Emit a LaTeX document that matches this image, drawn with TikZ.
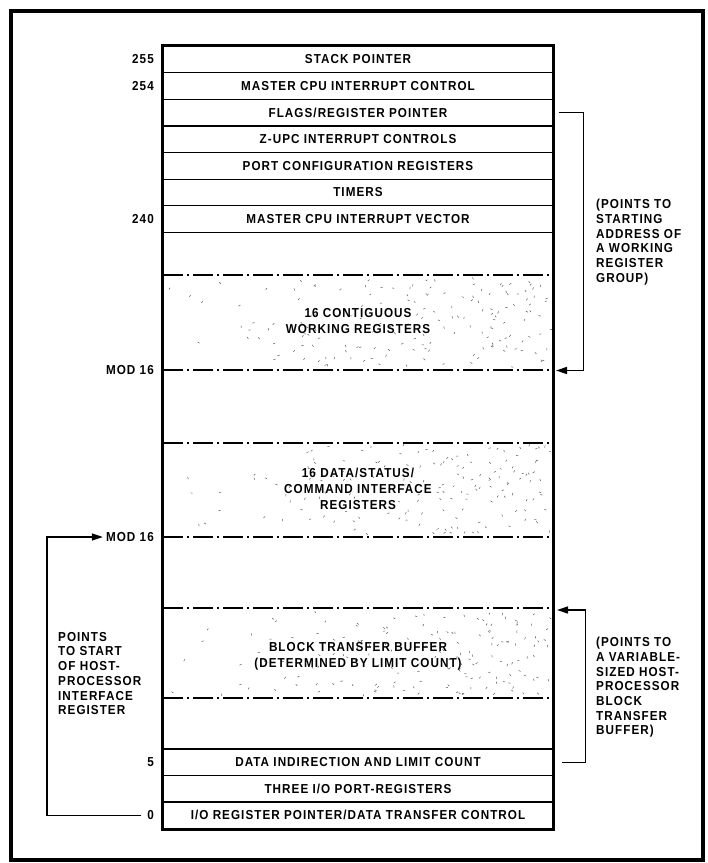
\documentclass[tikz,border=0pt]{standalone}
\usepackage{fontspec}
\setmainfont{Liberation Sans}[FakeStretch=0.9,LetterSpace=8]
\usetikzlibrary{arrows.meta}
\begin{document}
\begin{tikzpicture}[x=1pt,y=-1pt,
  every node/.style={font=\fontsize{13}{14.7}\selectfont\bfseries, inner sep=0pt},
  row/.style={draw, line width=1.3pt, minimum width=390pt, minimum height=26.6pt},
  addr/.style={anchor=east},
  note/.style={align=left, anchor=north west},
  inlabel/.style={align=center, font=\fontsize{13}{16}\selectfont\bfseries},
  bracket/.style={line width=1.4pt},
  arr/.style={bracket, -{Triangle[length=11pt,width=7pt]}},
  dashdotline/.style={line width=1.5pt, dash pattern=on 20pt off 4pt on 2pt off 4pt},
  speck/.style={line width=0.5pt, black!65},
]
\useasboundingbox (0,0) rectangle (708,863);
\draw[line width=4pt] (11,11) rectangle (703,860);

% speckle shading of the register blocks
\pgfmathsetseed{7}
\foreach \ya/\yb in {275/370,443/537,608/698}{
  \foreach \i in {1,...,170}{
    \pgfmathsetmacro{\px}{166+384*sqrt(rnd)}
    \pgfmathsetmacro{\py}{\ya+3+(\yb-\ya-6)*rnd}
    \pgfmathsetmacro{\pa}{360*rnd}
    \draw[speck] (\px,\py) -- ++(\pa:2.2);
  }
}

% rows
\node[row] (r255)   at (358,59.5)  {STACK POINTER};
\node[row] (r254)   at (358,86.1)  {MASTER CPU INTERRUPT CONTROL};
\node[row] (rflags) at (358,112.7) {FLAGS/REGISTER POINTER};
\node[row] (rzupc)  at (358,139.3) {Z-UPC INTERRUPT CONTROLS};
\node[row] (rport)  at (358,165.9) {PORT CONFIGURATION REGISTERS};
\node[row] (rtim)   at (358,192.5) {TIMERS};
\node[row] (r240)   at (358,219.1) {MASTER CPU INTERRUPT VECTOR};
\node[row] (r5)     at (358,762.2) {DATA INDIRECTION AND LIMIT COUNT};
\node[row] (r3io)   at (358,788.8) {THREE I/O PORT-REGISTERS};
\node[row] (r0)     at (358,815.4) {I/O REGISTER POINTER/DATA TRANSFER CONTROL};

\draw[line width=2.6pt] (r255.north west) rectangle (r0.south east);

% dash-dot boundaries
\foreach \n/\y in {a/275,b/370,c/443,d/537,e/608,f/698}{
  \coordinate (d\n L) at (163,\y);
  \coordinate (d\n R) at (553,\y);
  \draw[dashdotline] (d\n L) -- (d\n R);
}

% block labels
\node[inlabel] (t1) at (358,321) {16 CONTIGUOUS\\WORKING REGISTERS};
\node[inlabel] (t2) at (358,489) {16 DATA/STATUS/\\COMMAND INTERFACE\\REGISTERS};
\node[inlabel] (t3) at (358,656) {BLOCK TRANSFER BUFFER\\(DETERMINED BY LIMIT COUNT)};

% addresses
\node[addr] (l255)  at (154,59.5)  {255};
\node[addr] (l254)  at (154,86.1)  {254};
\node[addr] (l240)  at (154,219.1) {240};
\node[addr] (lmod1) at (154,370)   {MOD 16};
\node[addr] (lmod2) at (154,537)   {MOD 16};
\node[addr] (l5)    at (154,762.2) {5};
\node[addr] (l0)    at (154,815.4) {0};

% notes
\node[note] (n1) at (596,199) {(POINTS TO\\STARTING\\ADDRESS OF\\A WORKING\\REGISTER\\GROUP)};
\node[note] (n2) at (596,637) {(POINTS TO\\A VARIABLE-\\SIZED HOST-\\PROCESSOR\\BLOCK\\TRANSFER\\BUFFER)};
\node[note] (n3) at (58,632) {POINTS\\TO START\\OF HOST-\\PROCESSOR\\INTERFACE\\REGISTER};

% pointer brackets
\coordinate (tipA) at (556,370.5);
\coordinate (tipB) at (557,610);
\draw[arr] ([xshift=5pt]rflags.east) -- ++(25,0) |- (tipA);
\draw[arr] ([xshift=8pt]r5.east) -- ++(24,0) |- (tipB);
\draw[arr] ([xshift=-6pt]l0.west) -- ++(-94,0) |- ([xshift=-3pt]lmod2.west);
\end{tikzpicture}
\end{document}
